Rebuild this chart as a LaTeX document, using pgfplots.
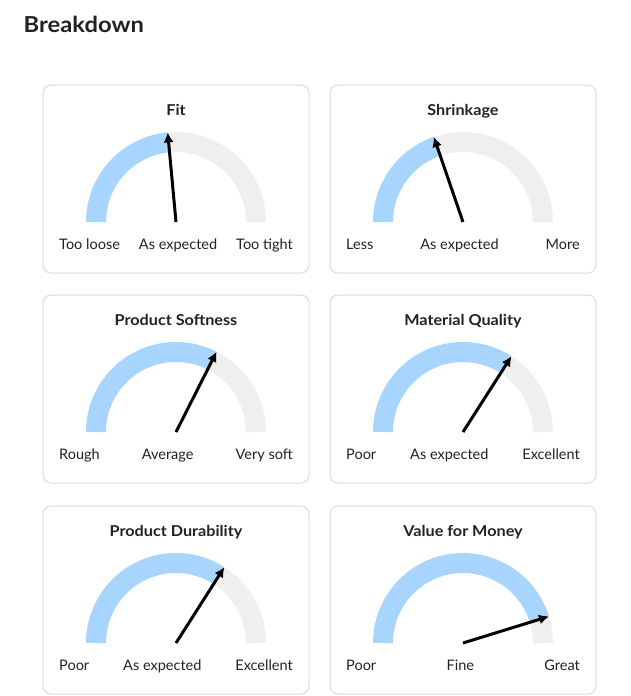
\documentclass[border=0pt]{standalone}
\usepackage{fontspec}
\setmainfont{Lato}
\newfontfamily\tb{Lato}[FakeStretch=1.08]
\usepackage{pgfplots}
\pgfplotsset{compat=1.18}
\usetikzlibrary{arrows.meta,calc}
\definecolor{gblue}{HTML}{A8D5FE}
\definecolor{ggray}{HTML}{EFEFEF}
\definecolor{bord}{HTML}{DCDCDC}
\definecolor{txt}{HTML}{222222}
% #1 x0, #2 y0 (panel top-left, px), #3 needle angle (deg), #4 title, #5 left, #6 middle, #7 right
\newcommand{\gauge}[7]{%
  \draw[bord, line width=1pt, rounded corners=8pt] (axis cs:{#1},{#2}) rectangle (axis cs:{#1+266},{#2+188});
  \draw[ggray, line width=20pt] (axis cs:{#1+133},{#2+137}) ++(#3:80pt) arc[start angle=#3, end angle=0, radius=80pt];
  \draw[gblue, line width=20pt] (axis cs:{#1+133},{#2+137}) ++(180:80pt) arc[start angle=180, end angle=#3, radius=80pt];
  \node[txt, font=\tb\bfseries\fontsize{15}{16}\selectfont, anchor=base] at (axis cs:{#1+133},{#2+30.7}) {#4};
  \node[txt, font=\fontsize{14.5}{16}\selectfont, anchor=base west, inner sep=0pt] (gl) at (axis cs:{#1+16},{#2+164.3}) {#5};
  \node[txt, font=\fontsize{14.5}{16}\selectfont, anchor=base east, inner sep=0pt] (gr) at (axis cs:{#1+250},{#2+164.3}) {#7};
  \node[txt, font=\fontsize{14.5}{16}\selectfont, anchor=base, inner sep=0pt] at ($(gl.base east)!0.5!(gr.base west)$) {#6};
}
\tikzset{needle/.style={black, line width=3pt, -{Latex[length=10pt,width=10pt]}, mark=none}}
\begin{document}
\begin{tikzpicture}
\begin{axis}[
  scale only axis, width=631pt, height=696pt,
  xmin=0, xmax=631, ymin=0, ymax=696, y dir=reverse,
  axis lines=none, clip=false, enlargelimits=false,
]
\fill[white] (axis cs:0,0) rectangle (axis cs:631,696);
\node[txt, font=\tb\bfseries\fontsize{22}{26}\selectfont, anchor=base west, inner sep=0pt] at (axis cs:23.5,32.3) {Breakdown};
% gauge values as needle angles: 180 = leftmost, 0 = rightmost
\gauge{43}{85}{95.3}{Fit}{Too loose}{As expected}{Too tight}
\gauge{330}{85}{108.9}{Shrinkage}{Less}{As expected}{More}
\gauge{43}{295}{63.2}{Product Softness}{Rough}{Average}{Very soft}
\gauge{330}{295}{57.4}{Material Quality}{Poor}{As expected}{Excellent}
\gauge{43}{506}{57.5}{Product Durability}{Poor}{As expected}{Excellent}
\gauge{330}{506}{17.2}{Value for Money}{Poor}{Fine}{Great}
% needles: from gauge centre to the outer edge of the arc
\addplot[needle] coordinates {(176,222) (167.7,132.4)};
\addplot[needle] coordinates {(463,222) (433.8,136.9)};
\addplot[needle] coordinates {(176,432) (216.6,351.7)};
\addplot[needle] coordinates {(463,432) (511.5,356.2)};
\addplot[needle] coordinates {(176,643) (224.4,567.1)};
\addplot[needle] coordinates {(463,643) (549.0,616.4)};
\end{axis}
\end{tikzpicture}
\end{document}
